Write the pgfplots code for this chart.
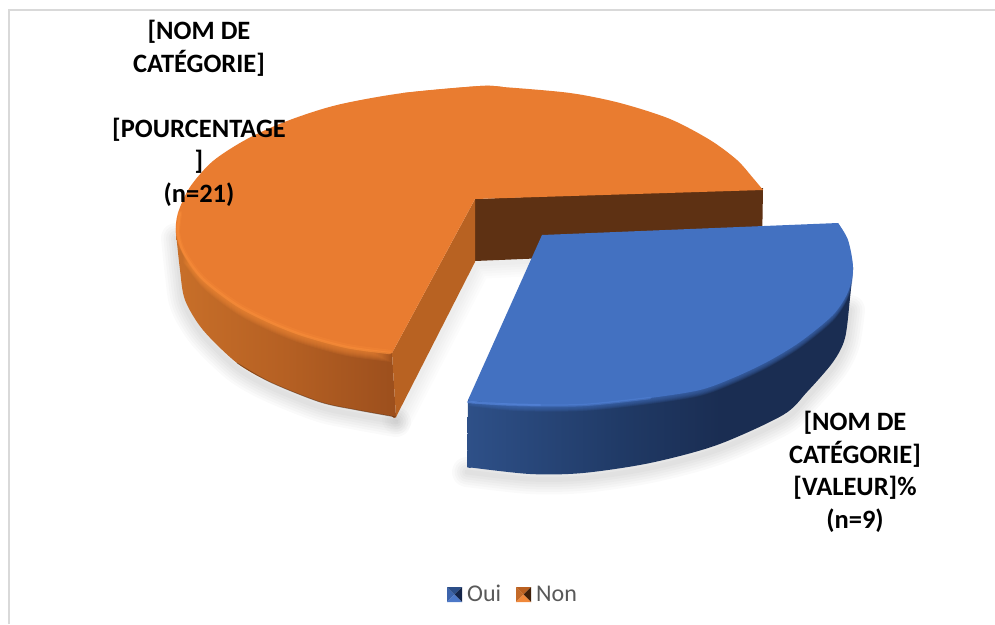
\documentclass[border=0pt]{standalone}
\usepackage{fontspec}
\setmainfont{Carlito}
\usepackage{pgfplots}
\usepackage{pgfplotstable}
\pgfplotsset{compat=1.18}

\definecolor{orangetop}{HTML}{E97C30}
\definecolor{orangerim}{HTML}{F78C39}
\definecolor{orangecut}{HTML}{B86222}
\definecolor{browncut}{HTML}{5E3113}
\definecolor{bluetop}{HTML}{4371C1}
\definecolor{bluerim}{HTML}{5685DA}
\definecolor{gridframe}{HTML}{D9D9D9}
\definecolor{legendgrey}{HTML}{595959}
\definecolor{orangeside1}{HTML}{C86F29}
\definecolor{orangeside2}{HTML}{B56023}
\definecolor{orangeside3}{HTML}{9C4F1D}
\definecolor{blueside1}{HTML}{2E5088}
\definecolor{blueside2}{HTML}{203A66}
\definecolor{blueside3}{HTML}{1A2D52}

% Side walls of the two slices, lit from the left
\pgfdeclarehorizontalshading{orangeside}{100bp}{
  color(0bp)=(orangeside1); color(25bp)=(orangeside1);
  color(50bp)=(orangeside2); color(75bp)=(orangeside3); color(100bp)=(orangeside3)}
\pgfdeclarehorizontalshading{blueside}{100bp}{
  color(0bp)=(blueside1); color(25bp)=(blueside1);
  color(45bp)=(blueside2); color(58bp)=(blueside3); color(100bp)=(blueside3)}

% Outer edges of the slices, in picture units
\pgfplotstableread{
x y
392 353
347 347
303 335
270 322
237 305
203 279
183 253
176 233
178 213
190 187
213 161
247 139
287 121
337 105
403 93
480 86
503 87
}\orangeTopLeft
\pgfplotstableread{
x y
403 93
480 86
503 87
570 93
620 103
670 119
710 140
737 160
753 178
763 190
}\orangeTopRight
\pgfplotstableread{
x y
392 353
347 347
303 335
270 322
237 305
203 279
183 253
}\orangeFrontEdge
\pgfplotstableread{
x y
176 233
180 270
185 300
203 330
237 363
270 382
320 402
357 410
396 417
}\orangeBottom
\pgfplotstableread{
x y
468 400
517 405
583 405
650 398
700 390
733 378
767 362
800 342
833 315
848 292
853 268
848 240
838 223
}\blueTop
\pgfplotstableread{
x y
467 467
530 474
583 473
650 463
717 445
783 415
807 392
833 362
845 338
850 298
853 268
}\blueBottom

\begin{document}
\begin{tikzpicture}
\begin{axis}[
  width=995pt, height=624pt, scale only axis,
  xmin=0, xmax=995, ymin=0, ymax=624, y dir=reverse,
  hide axis, clip=true, no markers]

% page and chart frame
\addplot[fill=white, draw=none] coordinates {(0,0) (995,0) (995,624) (0,624)} -- cycle;
\addplot[draw=gridframe, line width=2pt] coordinates {(9,624) (9,10) (995,10)};

% soft drop shadow under the slices
\foreach \w in {5,10,15,20,25,30}{
  \edef\tmp{\noexpand\addplot[smooth, draw=black, opacity=.018, line width=\w pt, yshift=-5pt, line cap=round] table {\noexpand\orangeBottom};}\tmp
  \edef\tmp{\noexpand\addplot[draw=black, opacity=.012, line width=\w pt, xshift=2pt, yshift=-2pt, line cap=round] coordinates {(395,417) (475,262) (532,259)};}\tmp
  \edef\tmp{\noexpand\addplot[smooth, draw=black, opacity=.018, line width=\w pt, yshift=-5pt, line cap=round] coordinates {(467,467) (530,474) (583,473) (650,463) (717,445) (783,415) (807,392) (833,362) (845,338) (850,305)};}\tmp
}

% inner face of the orange slice seen behind the gap
\addplot[fill=browncut, draw=none] coordinates {(475,199) (763,188) (762,249) (475,261)} -- cycle;

% orange wall
\addplot[smooth, shade, shading=orangeside, draw=none] table {\orangeBottom};
\addplot[shade, shading=orangeside, draw=none] coordinates {(176,233) (178,237) (394,418) (396,417) (392,353)} -- cycle;
\addplot[smooth, draw=black!55!orangeside3, line width=.8pt, opacity=.45] coordinates {(237,363) (270,382) (320,402) (357,410) (396,417)};
\foreach \s in {1,2,3,4,5,6,7,8,9}{
  \edef\tmp{\noexpand\addplot[smooth, fill=orangerim, draw=none, opacity=.12, yshift=-\s pt] table {\noexpand\orangeFrontEdge};}\tmp
}

% orange cut face
\addplot[fill=orangecut, draw=none] coordinates {(392,353) (475,199) (475,262) (396,417)} -- cycle;

% orange top
\addplot[smooth, fill=orangetop, draw=none] table {\orangeTopLeft};
\addplot[smooth, fill=orangetop, draw=none] table {\orangeTopRight};
\addplot[fill=orangetop, draw=none] coordinates {(392,353) (386,351) (495,88) (503,87) (475,199)} -- cycle;
\addplot[fill=orangetop, draw=none] coordinates {(403,93) (415,93.5) (750,182) (763,190) (475,199)} -- cycle;
\addplot[smooth, draw=orangerim, line width=4.5pt, opacity=.3, line cap=round] coordinates {(390,352) (347,346) (303,334) (270,321) (237,304) (203,278) (184,252) (178,233) (180,213)};
\addplot[smooth, draw=orangerim, line width=2.4pt, opacity=.6, line cap=round] coordinates {(390,353) (347,347) (303,335) (270,322) (237,305) (203,279) (184,253) (178,233) (180,213)};

% blue wall
\addplot[smooth, shade, shading=blueside, draw=none] table {\blueBottom};
\addplot[shade, shading=blueside, draw=none] coordinates {(467,467) (470,468) (853,270) (853,267) (468,400)} -- cycle;
\foreach \s in {.75,1.5,2.25,3,3.75,4.5,5.25,6}{
  \edef\tmp{\noexpand\addplot[smooth, fill=bluetop, draw=none, opacity=.13, yshift=-\s pt] table {\noexpand\blueTop};}\tmp
}

% blue top
\addplot[smooth, fill=bluetop, draw=none] table {\blueTop};
\addplot[fill=bluetop, draw=none] coordinates {(542,235) (838,223) (842,230) (474,403) (468,400)} -- cycle;
\addplot[smooth, draw=bluerim, line width=2.4pt, opacity=.4, line cap=round] coordinates {(468,402) (517,405) (583,405) (650,398)};
\addplot[smooth, draw=bluerim, line width=2pt, opacity=.55, line cap=round] coordinates {(468,402) (500,404) (540,405)};

% data labels
\tikzset{lab/.style={anchor=base, font=\fontsize{26.5}{30}\selectfont\bfseries}}
\node[lab] at (axis cs:199,39) {[NOM DE};
\node[lab] at (axis cs:199,72) {CATÉGORIE]};
\node[lab] at (axis cs:199,137) {[POURCENTAGE};
\node[lab] at (axis cs:199,169) {]};
\node[lab] at (axis cs:199,202) {(n=21)};
\node[lab] at (axis cs:855,430) {[NOM DE};
\node[lab] at (axis cs:855,463) {CATÉGORIE]};
\node[lab] at (axis cs:855,495) {[VALEUR]\%};
\node[lab] at (axis cs:855,528) {(n=9)};

% legend keys
\addplot[fill={rgb,255:red,60;green,100;blue,172}, draw=none] coordinates {(447,587) (454.5,594.5) (447,602)} -- cycle;
\addplot[fill={rgb,255:red,44;green,78;blue,136}, draw=none] coordinates {(447,587) (462,587) (454.5,594.5)} -- cycle;
\addplot[fill={rgb,255:red,20;green,36;blue,72}, draw=none] coordinates {(462,587) (462,602) (454.5,594.5)} -- cycle;
\addplot[fill={rgb,255:red,76;green,120;blue,200}, draw=none] coordinates {(447,602) (462,602) (454.5,594.5)} -- cycle;
\addplot[fill={rgb,255:red,196;green,106;blue,40}, draw=none] coordinates {(516,587) (523.5,594.5) (516,602)} -- cycle;
\addplot[fill={rgb,255:red,186;green,96;blue,32}, draw=none] coordinates {(516,587) (531,587) (523.5,594.5)} -- cycle;
\addplot[fill={rgb,255:red,64;green,32;blue,10}, draw=none] coordinates {(531,587) (531,602) (523.5,594.5)} -- cycle;
\addplot[fill={rgb,255:red,240;green,136;blue,58}, draw=none] coordinates {(516,602) (531,602) (523.5,594.5)} -- cycle;
\node[anchor=base west, inner sep=0pt, text=legendgrey, font=\fontsize{24}{28}\selectfont] at (axis cs:467,601) {Oui};
\node[anchor=base west, inner sep=0pt, text=legendgrey, font=\fontsize{24}{28}\selectfont] at (axis cs:536,601) {Non};
\end{axis}
\end{tikzpicture}
\end{document}
